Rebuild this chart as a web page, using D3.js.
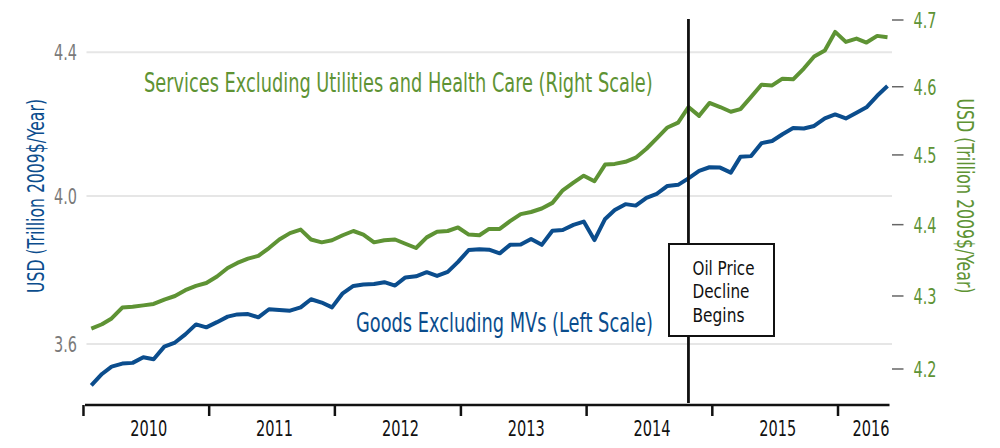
<!DOCTYPE html>
<meta charset="utf-8">
<script src="https://cdn.jsdelivr.net/npm/d3@7"></script>
<style>
  body { margin: 0; background: #fff; }
  svg { display: block; font-family: "Liberation Sans Narrow", "DejaVu Sans Condensed", "Roboto", sans-serif; }
</style>
<body>
<script>

// monthly data, Jan 2010 .. May 2016
var firstMonth = "2010-01"
var lastMonth = "2016-05"
var oilMonth = "2014-10"

var years = ["2010", "2011", "2012", "2013", "2014", "2015", "2016"]
var leftTicks = [3.6, 4.0, 4.4]
var rightTicks = [4.2, 4.3, 4.4, 4.5, 4.6, 4.7]
var oilLabel = ["Oil Price", "Decline", "Begins"]

// goods excluding motor vehicles, left scale
var goods = [
  3.488, 3.519, 3.539, 3.547, 3.549, 3.564, 3.559, 3.593, 3.604, 3.626, 3.653, 3.645,
  3.659, 3.674, 3.680, 3.681, 3.672, 3.694, 3.692, 3.690, 3.699, 3.721, 3.712, 3.699,
  3.737, 3.757, 3.761, 3.762, 3.767, 3.758, 3.780, 3.783, 3.794, 3.784, 3.795, 3.822,
  3.854, 3.856, 3.855, 3.845, 3.868, 3.869, 3.884, 3.868, 3.906, 3.908, 3.922, 3.931,
  3.881, 3.938, 3.962, 3.978, 3.974, 3.995, 4.006, 4.028, 4.031, 4.049, 4.070, 4.080,
  4.079, 4.065, 4.109, 4.111, 4.147, 4.153, 4.172, 4.189, 4.188, 4.195, 4.216, 4.227,
  4.216, 4.232, 4.247, 4.279, 4.306
]

// services excluding utilities and health care, right scale
var services = [
  4.255, 4.261, 4.269, 4.284, 4.285, 4.287, 4.289, 4.295, 4.300, 4.308, 4.314, 4.318,
  4.327, 4.339, 4.346, 4.352, 4.356, 4.367, 4.379, 4.388, 4.393, 4.379, 4.375, 4.378,
  4.385, 4.391, 4.386, 4.375, 4.378, 4.379, 4.373, 4.367, 4.382, 4.390, 4.391, 4.396,
  4.386, 4.385, 4.394, 4.394, 4.405, 4.415, 4.418, 4.423, 4.431, 4.449, 4.460, 4.470,
  4.462, 4.486, 4.487, 4.490, 4.496, 4.509, 4.524, 4.540, 4.547, 4.570, 4.557, 4.576,
  4.570, 4.563, 4.567, 4.585, 4.603, 4.602, 4.612, 4.611, 4.627, 4.645, 4.654, 4.682,
  4.667, 4.672, 4.666, 4.676, 4.674
]

var blue = "#0b4d8d"
var green = "#5e9334"
var grey = "#7a7a7a"

var parseMonth = d3.timeParse("%Y-%m")
var midMonth = function(s) { var d = parseMonth(s); d.setDate(15); return d }
var months = d3.timeMonth.range(parseMonth(firstMonth), d3.timeMonth.offset(parseMonth(lastMonth), 1))
               .map(function(d) { return new Date(d.getFullYear(), d.getMonth(), 15) })

var width = 1000
var height = 448
var axisY = 405

var x = d3.scaleTime().domain([months[0], months[months.length - 1]]).range([91.3, 887.5])
var yL = d3.scaleLinear().domain([3.6, 4.0, 4.4]).range([344, 196, 52.3])
var yR = d3.scaleLog().domain([4.2, 4.7]).range([369, 20])

var svg = d3.select("body").append("svg")
            .attr("width", width)
            .attr("height", height)
            .attr("viewBox", "0 0 " + width + " " + height)

// squeeze a text horizontally so it spans w pixels from its anchor
function fit(text, left, baseline, w) {
  var natural = text.node().getComputedTextLength()
  text.attr("transform", "translate(" + left + "," + baseline + ") scale(" + (w / natural) + ",1)")
}

// gridlines from the left scale
svg.append("g").selectAll("line")
   .data(leftTicks).enter().append("line")
   .attr("x1", 86.5).attr("x2", 892)
   .attr("y1", function(d) { return yL(d) }).attr("y2", function(d) { return yL(d) })
   .attr("stroke", "#e6e6e6").attr("stroke-width", 2)

svg.append("g").selectAll("text")
   .data(leftTicks).enter().append("text")
   .attr("x", 77).attr("y", function(d) { return yL(d) + 8 })
   .attr("text-anchor", "end")
   .attr("fill", grey).style("font-size", "22px")
   .attr("textLength", 23).attr("lengthAdjust", "spacingAndGlyphs")
   .text(d3.format(".1f"))

// right scale
var right = svg.append("g")
right.selectAll("line")
     .data(rightTicks).enter().append("line")
     .attr("x1", 892).attr("x2", 903.5)
     .attr("y1", function(d) { return yR(d) }).attr("y2", function(d) { return yR(d) })
     .attr("stroke", "#666").attr("stroke-width", 1.5)
right.selectAll("text")
     .data(rightTicks).enter().append("text")
     .attr("x", 913.5).attr("y", function(d) { return yR(d) + 8 })
     .attr("fill", green).style("font-size", "22px")
     .attr("textLength", 23).attr("lengthAdjust", "spacingAndGlyphs")
     .text(d3.format(".1f"))

// axis titles
svg.append("text")
   .attr("transform", "translate(44,196) rotate(-90)")
   .attr("text-anchor", "middle").attr("fill", blue)
   .style("font-size", "23px")
   .attr("textLength", 194).attr("lengthAdjust", "spacingAndGlyphs")
   .text("USD (Trillion 2009$/Year)")

svg.append("text")
   .attr("transform", "translate(957,196) rotate(90)")
   .attr("text-anchor", "middle").attr("fill", green)
   .style("font-size", "23px")
   .attr("textLength", 195).attr("lengthAdjust", "spacingAndGlyphs")
   .text("USD (Trillion 2009$/Year)")

// x axis
svg.append("line")
   .attr("x1", 85).attr("x2", 889.5).attr("y1", axisY).attr("y2", axisY)
   .attr("stroke", "#111").attr("stroke-width", 2.5)

var yearStarts = years.map(function(y) { return new Date(+y, 0, 1) })
svg.append("g").selectAll("line")
   .data(yearStarts).enter().append("line")
   .attr("x1", function(d) { return x(d) - 3 }).attr("x2", function(d) { return x(d) - 3 })
   .attr("y1", axisY).attr("y2", 416)
   .attr("stroke", "#111").attr("stroke-width", 2.5)

svg.append("g").selectAll("text")
   .data(years).enter().append("text")
   .attr("x", function(d, i) {
     return i == years.length - 1 ? 889.5 : x(new Date(+d, 6, 1)) })
   .attr("y", 435.5)
   .attr("text-anchor", function(d, i) { return i == years.length - 1 ? "end" : "middle" })
   .attr("fill", "#111").style("font-size", "21px")
   .attr("textLength", 37).attr("lengthAdjust", "spacingAndGlyphs")
   .text(function(d) { return d })

// series
var lineL = d3.line().x(function(d, i) { return x(months[i]) }).y(function(d) { return yL(d) })
var lineR = d3.line().x(function(d, i) { return x(months[i]) }).y(function(d) { return yR(d) })

svg.append("path").attr("d", lineR(services))
   .attr("fill", "none").attr("stroke", green).attr("stroke-width", 4).attr("stroke-linejoin", "round")
svg.append("path").attr("d", lineL(goods))
   .attr("fill", "none").attr("stroke", blue).attr("stroke-width", 4).attr("stroke-linejoin", "round")

// oil price marker
var oilX = x(midMonth(oilMonth))
svg.append("line")
   .attr("x1", oilX).attr("x2", oilX).attr("y1", 19).attr("y2", 403)
   .attr("stroke", "#111").attr("stroke-width", 2.8)
svg.append("rect")
   .attr("x", 669).attr("y", 244).attr("width", 105).attr("height", 92)
   .attr("fill", "#fff").attr("stroke", "#111").attr("stroke-width", 2)
var boxWidths = [62, 57, 52]
svg.append("g").selectAll("text")
   .data(oilLabel).enter().append("text")
   .attr("fill", "#111").style("font-size", "19px")
   .text(function(d) { return d })
   .each(function(d, i) { fit(d3.select(this), 692.5, 274.5 + i * 23.5, boxWidths[i]) })

// series labels
var servicesLabel = svg.append("text")
   .attr("fill", green).style("font-size", "26px")
   .text("Services Excluding Utilities and Health Care (Right Scale)")
fit(servicesLabel, 144, 92, 509)

var goodsLabel = svg.append("text")
   .attr("fill", blue).style("font-size", "26px")
   .text("Goods Excluding MVs (Left Scale)")
fit(goodsLabel, 356, 331.5, 297)

</script>
</body>
